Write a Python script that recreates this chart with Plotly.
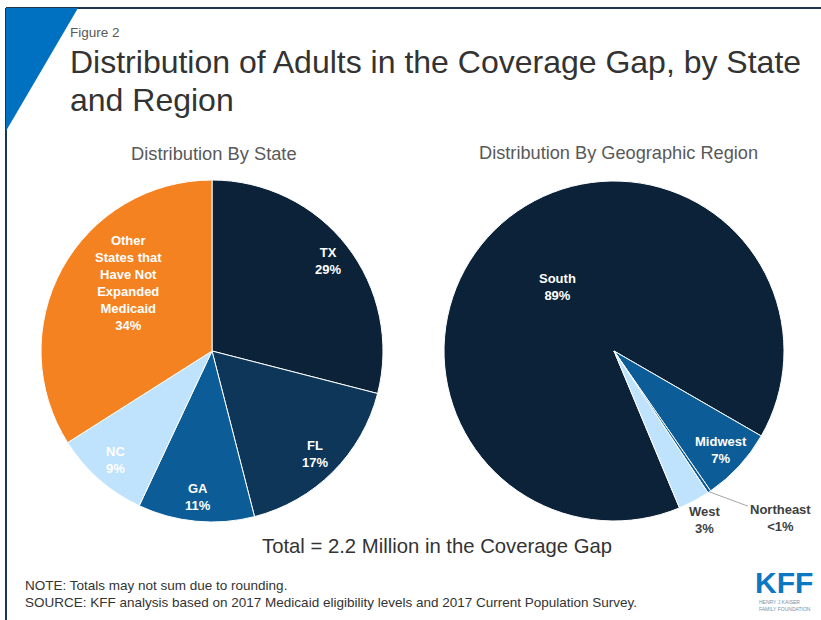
import math
import plotly.graph_objects as go

W, H = 821, 620

# ---- data ----
states = ["TX", "FL", "GA", "NC", "Other<br>States that<br>Have Not<br>Expanded<br>Medicaid"]
state_values = [29, 17, 11, 9, 34]
state_labels = ["29%", "17%", "11%", "9%", "34%"]
state_colors = ["#0b2239", "#0d3659", "#0b5c97", "#bfe3fc", "#f58220"]

regions = ["South", "Midwest", "Northeast", "West"]
region_values = [89, 7, 0.3, 3]
region_labels = ["89%", "7%", "<1%", "3%"]
region_colors = ["#0b2239", "#0b5c97", "#0b5c97", "#bfe3fc"]

FONT = "Liberation Sans, Arial, sans-serif"


def px(x):
    return x / W


def py(y):
    return 1 - y / H


# pie geometry (pixels)
L_CX, L_CY, L_R = 212, 351, 171
R_CX, R_CY, R_R = 614, 351, 170
L_ROT = 0
R_ROT = 120 - region_values[0] / sum(region_values) * 360

fig = go.Figure()
fig.add_trace(go.Pie(
    labels=states, values=state_values, sort=False, direction="clockwise",
    rotation=L_ROT, textinfo="none", hoverinfo="label+percent",
    marker=dict(colors=state_colors, line=dict(color="white", width=1)),
    domain=dict(x=[px(L_CX - L_R), px(L_CX + L_R)], y=[py(L_CY + L_R), py(L_CY - L_R)]),
    showlegend=False,
))
fig.add_trace(go.Pie(
    labels=regions, values=region_values, sort=False, direction="clockwise",
    rotation=R_ROT, textinfo="none", hoverinfo="label+percent",
    marker=dict(colors=region_colors, line=dict(color="white", width=1)),
    domain=dict(x=[px(R_CX - R_R), px(R_CX + R_R)], y=[py(R_CY + R_R), py(R_CY - R_R)]),
    showlegend=False,
))

annotations = []


def slice_label_positions(values, rot, cx, cy, r, fracs, offsets):
    total = sum(values)
    cum = 0
    out = []
    for v, f, off in zip(values, fracs, offsets):
        mid = rot + (cum + v / 2) / total * 360 + off
        cum += v
        a = math.radians(mid)
        out.append((cx + f * r * math.sin(a), cy - f * r * math.cos(a), mid))
    return out


# left pie labels
lpos = slice_label_positions(state_values, L_ROT, L_CX, L_CY, L_R,
                             [0.86, 0.85, 0.86, 0.85, 0.63], [0, 0, 0, 0, 10])
for name, pct, (x, y, _) in zip(states, state_labels, lpos):
    annotations.append(dict(x=px(x), y=py(y), xref="paper", yref="paper",
                            text=f"<b>{name}<br>{pct}</b>", showarrow=False,
                            font=dict(family=FONT, size=13, color="white"),
                            xanchor="center", yanchor="middle"))

# right pie labels
rpos = slice_label_positions(region_values, R_ROT, R_CX, R_CY, R_R,
                             [0.5, 0.86, 1.0, 1.13], [0, 0, 0, 0])
NE_TEXT = (780, 518)
for i, (name, pct, (x, y, mid)) in enumerate(zip(regions, region_labels, rpos)):
    if name == "Northeast":
        annotations.append(dict(x=px(x), y=py(y), xref="paper", yref="paper",
                                text=f"<b>{name}<br>{pct}</b>", showarrow=True,
                                arrowhead=0, arrowwidth=1, arrowcolor="#a6a6a6",
                                ax=NE_TEXT[0] - x, ay=NE_TEXT[1] - y,
                                standoff=0,
                                font=dict(family=FONT, size=13, color="#404040")))
    else:
        col = "#404040" if name == "West" else "white"
        annotations.append(dict(x=px(x), y=py(y), xref="paper", yref="paper",
                                text=f"<b>{name}<br>{pct}</b>", showarrow=False,
                                font=dict(family=FONT, size=13, color=col),
                                xanchor="center", yanchor="middle"))

# titles and texts
texts = [
    dict(x=68, y=32, text="Figure 2", size=13.5, color="#595959", xanchor="left"),
    dict(x=68, y=62, text="Distribution of Adults in the Coverage Gap, by State", size=32, color="#333333", xanchor="left"),
    dict(x=68, y=100, text="and Region", size=32, color="#333333", xanchor="left"),
    dict(x=214, y=153, text="Distribution By State", size=18.3, color="#595959", xanchor="center"),
    dict(x=618, y=153, text="Distribution By Geographic Region", size=18.2, color="#595959", xanchor="center"),
    dict(x=437, y=546, text="Total = 2.2 Million in the Coverage Gap", size=20.3, color="#333333", xanchor="center"),
    dict(x=23, y=585, text="NOTE: Totals may not sum due to rounding.", size=13.5, color="#333333", xanchor="left"),
    dict(x=23, y=602, text="SOURCE: KFF analysis based on 2017 Medicaid eligibility levels and 2017 Current Population Survey.", size=13.5, color="#333333", xanchor="left"),
]
for t in texts:
    annotations.append(dict(x=px(t["x"]), y=py(t["y"]), xref="paper", yref="paper",
                            text=t["text"], showarrow=False, xanchor=t["xanchor"], yanchor="middle",
                            font=dict(family=FONT, size=t["size"], color=t["color"])))

# KFF logo
annotations.append(dict(x=px(784), y=py(582), xref="paper", yref="paper", text="<b>KFF</b>",
                        showarrow=False, xanchor="center", yanchor="middle",
                        font=dict(family=FONT, size=30, color="#0a78c2")))
annotations.append(dict(x=px(757), y=py(605), xref="paper", yref="paper",
                        text="HENRY J KAISER<br>FAMILY FOUNDATION",
                        showarrow=False, xanchor="left", yanchor="middle", align="left",
                        font=dict(family=FONT, size=5, color="#7a8fa6")))

shapes = [
    dict(type="line", xref="paper", yref="paper", x0=px(6), y0=py(8), x1=1, y1=py(8),
         line=dict(color="#1c3550", width=2)),
    dict(type="line", xref="paper", yref="paper", x0=px(6), y0=py(8), x1=px(6), y1=0,
         line=dict(color="#1c3550", width=2)),
    dict(type="path", xref="paper", yref="paper",
         path=f"M {px(6)} {py(8)} L {px(78)} {py(8)} L {px(6)} {py(131)} Z",
         fillcolor="#0070c0", line=dict(width=0)),
]

fig.update_layout(width=W, height=H, margin=dict(l=0, r=0, t=0, b=0),
                  paper_bgcolor="white", plot_bgcolor="white",
                  annotations=annotations, shapes=shapes,
                  font=dict(family=FONT))

fig.write_html("out.html")
